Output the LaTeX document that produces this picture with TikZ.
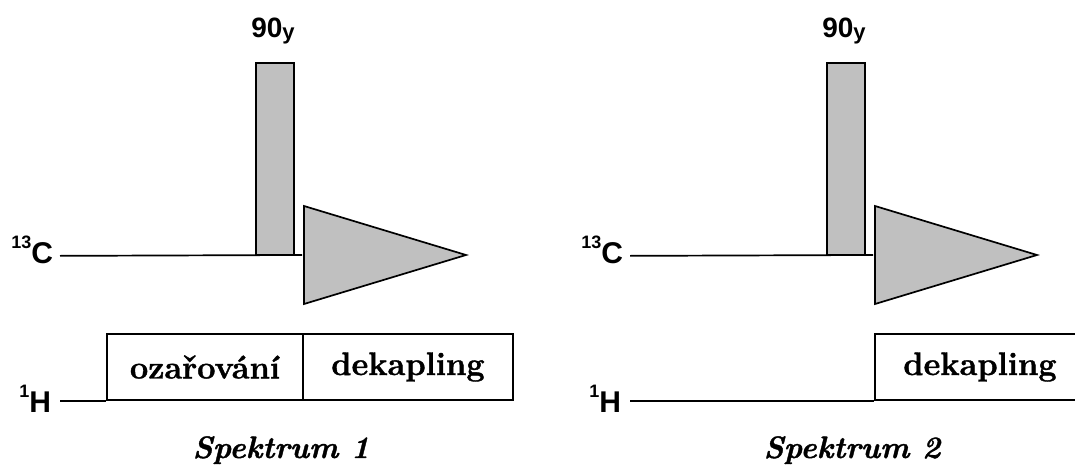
\documentclass[tikz,border=0pt]{standalone}
\usepackage{fontspec}
\newfontfamily\nucfont{Liberation Sans}
\newfontfamily\boxfont{Latin Modern Roman}[FakeBold=1.2]
\usetikzlibrary{positioning}
\definecolor{pulsegray}{RGB}{192,192,192}
\newcommand{\nuc}[2]{{\fontsize{18}{18}\selectfont\raisebox{15pt}{#1}}#2}

\begin{document}
\begin{tikzpicture}[
    x=1pt, y=-1pt,
    line width=1.7pt,
    nuc/.style={font=\nucfont\bfseries\fontsize{30}{30}\selectfont,
      inner sep=0pt, anchor=base east},
    flip/.style={font=\nucfont\bfseries\fontsize{28}{28}\selectfont,
      inner sep=0pt, anchor=base},
    pulse/.style={rectangle, draw, fill=pulsegray,
      minimum width=38pt, minimum height=192pt, inner sep=0pt},
    dec/.style={rectangle, draw, minimum height=66pt, inner sep=0pt,
      font=\boxfont\bfseries\fontsize{32.5}{32.5}\selectfont},
    title/.style={font=\boxfont\bfseries\itshape\fontsize{31}{31}\selectfont,
      inner sep=0pt, anchor=base}
  ]
    \useasboundingbox (0,0) rectangle (1075,468);

    % Spektrum 1
    \node[nuc] (c1lab) at (54,263) {\nuc{13}{C}};
    \node[nuc] (h1lab) at (52,412) {\nuc{1}{H}};
    \node[pulse] (p1) at (275,159) {};
    \node[flip] (f1) at (273,38) {90\raisebox{-2pt}{\fontsize{22}{22}\selectfont y}};
    \node[dec, minimum width=196pt] (oza1) at (205,367) {ozařování};
    \node[dec, minimum width=210pt] (dek1) at (408,367) {dekapling};
    \node[title] (s1) at (281,458) {Spektrum 1};
    \coordinate (c1a) at (p1.south -| 60,0);
    \coordinate (c1b) at (302,255);
    \coordinate (h1a) at (oza1.south west -| 60,0);

    \draw (c1a) -- (c1b);
    \draw (h1a) -- (oza1.south west);
    \draw[fill=pulsegray, line join=miter] (304,206) -- (304,304) -- (466,255) -- cycle;

    % Spektrum 2
    \node[nuc] (c2lab) at (624,263) {\nuc{13}{C}};
    \node[nuc] (h2lab) at (622,412) {\nuc{1}{H}};
    \node[pulse] (p2) at (846,159) {};
    \node[flip] (f2) at (844,38) {90\raisebox{-2pt}{\fontsize{22}{22}\selectfont y}};
    \node[dec, minimum width=210pt] (dek2) at (980,367) {dekapling};
    \node[title] (s2) at (852,458) {Spektrum 2};
    \coordinate (c2a) at (p2.south -| 630,0);
    \coordinate (c2b) at (873,255);
    \coordinate (h2a) at (dek2.south west -| 630,0);

    \draw (c2a) -- (c2b);
    \draw (h2a) -- (dek2.south west);
    \draw[fill=pulsegray, line join=miter] (875,206) -- (875,304) -- (1037,255) -- cycle;
  \end{tikzpicture}
\end{document}
